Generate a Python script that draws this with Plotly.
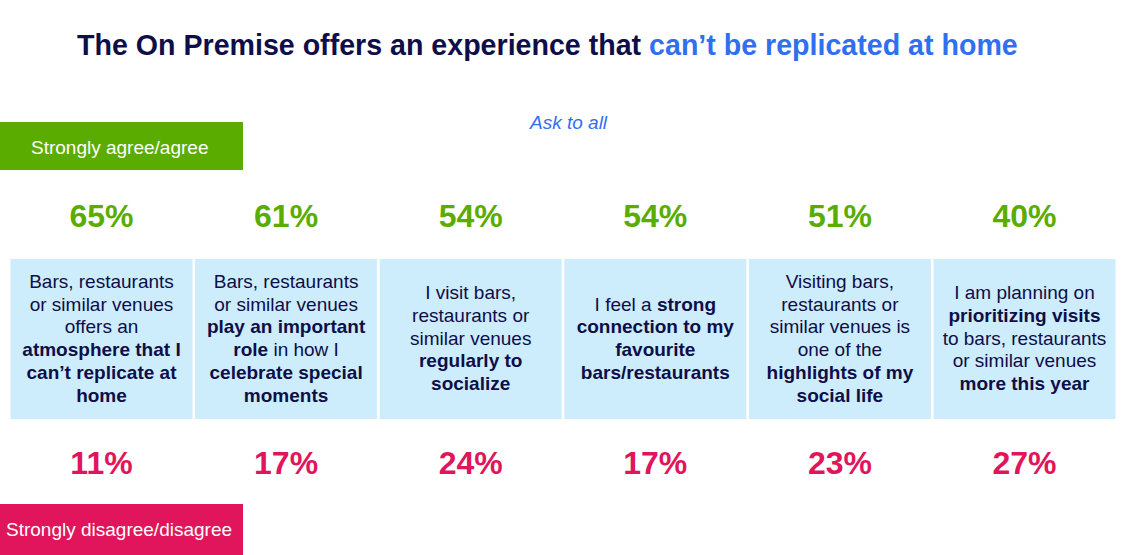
import plotly.graph_objects as go

# survey results, share of respondents in %
statements = [
    ["Bars, restaurants", "or similar venues", "offers an",
     "<b>atmosphere that I</b>", "<b>can’t replicate at</b>", "<b>home</b>"],
    ["Bars, restaurants", "or similar venues", "<b>play an important</b>",
     "<b>role</b> in how I", "<b>celebrate special</b>", "<b>moments</b>"],
    ["I visit bars,", "restaurants or", "similar venues",
     "<b>regularly to</b>", "<b>socialize</b>"],
    ["I feel a <b>strong</b>", "<b>connection to my</b>", "<b>favourite</b>",
     "<b>bars/restaurants</b>"],
    ["Visiting bars,", "restaurants or", "similar venues is", "one of the",
     "<b>highlights of my</b>", "<b>social life</b>"],
    ["I am planning on", "<b>prioritizing visits</b>", "to bars, restaurants",
     "or similar venues", "<b>more this year</b>"],
]
agree = [65, 61, 54, 54, 51, 40]
disagree = [11, 17, 24, 17, 23, 27]

NAVY = "#0e0e48"
BLUE = "#2f6ff0"
GREEN = "#5aad00"
PINK = "#e0155b"
BOX = "#cdecfc"
FONT = "Arial, Liberation Sans, sans-serif"

W, H = 1132, 555
x_first, step = 101.5, 184.6
centers = [x_first + i * step for i in range(len(agree))]
box_top, box_h = 259, 160
line_h = 22.7
text_mid = 340

fig = go.Figure()

# light blue statement boxes
fig.add_trace(go.Bar(x=centers, y=[box_h] * len(centers), base=box_top,
                     width=182, marker_color=BOX, marker_line_width=0,
                     hoverinfo="skip"))

# statement text, one point per line
lx, ly, lt = [], [], []
for cx, lines in zip(centers, statements):
    n = len(lines)
    for i, ln in enumerate(lines):
        lx.append(cx)
        ly.append(text_mid + (i - (n - 1) / 2) * line_h)
        lt.append(ln)
fig.add_trace(go.Scatter(x=lx, y=ly, text=lt, mode="text",
                         textposition="middle center",
                         textfont=dict(family=FONT, size=19, color=NAVY),
                         hoverinfo="skip"))

# percentages
fig.add_trace(go.Scatter(x=centers, y=[219] * len(agree),
                         text=[f"<b>{v}%</b>" for v in agree], mode="text",
                         textfont=dict(family=FONT, size=32, color=GREEN),
                         hoverinfo="skip"))
fig.add_trace(go.Scatter(x=centers, y=[466] * len(disagree),
                         text=[f"<b>{v}%</b>" for v in disagree], mode="text",
                         textfont=dict(family=FONT, size=32, color=PINK),
                         hoverinfo="skip"))

# legend tags
fig.add_shape(type="rect", x0=0, x1=243, y0=122, y1=170,
              fillcolor=GREEN, line_width=0, layer="below")
fig.add_shape(type="rect", x0=0, x1=243, y0=504, y1=555,
              fillcolor=PINK, line_width=0, layer="below")
fig.add_annotation(x=119, y=147, text="Strongly agree/agree", showarrow=False,
                   font=dict(family=FONT, size=19, color="white"))
fig.add_annotation(x=119, y=529, text="Strongly disagree/disagree", showarrow=False,
                   font=dict(family=FONT, size=19, color="white"))

# title and subtitle
fig.add_annotation(x=547, y=45, showarrow=False,
                   text=f"<b>The On Premise offers an experience that "
                        f"<span style='color:{BLUE}'>can’t be replicated at home</span></b>",
                   font=dict(family=FONT, size=28.6, color=NAVY))
fig.add_annotation(x=568, y=122, text="<i>Ask to all</i>", showarrow=False,
                   font=dict(family=FONT, size=19, color=BLUE))

fig.update_layout(width=W, height=H, margin=dict(l=0, r=0, t=0, b=0),
                  plot_bgcolor="white", paper_bgcolor="white",
                  showlegend=False,
                  xaxis=dict(range=[0, W], visible=False, fixedrange=True),
                  yaxis=dict(range=[H, 0], visible=False, fixedrange=True))

fig.write_html("out.html", config={"displayModeBar": False},
               post_script="document.body.style.margin='0';document.body.style.overflow='hidden';")
